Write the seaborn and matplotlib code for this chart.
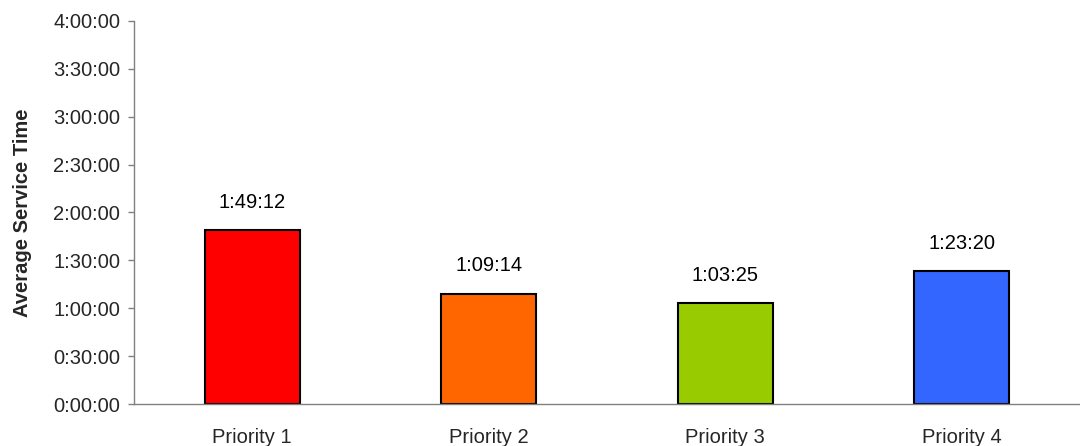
import matplotlib
matplotlib.use("Agg")
import matplotlib.pyplot as plt
import seaborn as sns
import pandas as pd
import numpy as np

categories = ["Priority 1", "Priority 2", "Priority 3", "Priority 4"]
service_times = ["1:49:12", "1:09:14", "1:03:25", "1:23:20"]
bar_colors = ["#FF0000", "#FF6600", "#99CC00", "#3366FF"]
ytick_labels = ["0:00:00", "0:30:00", "1:00:00", "1:30:00", "2:00:00",
                "2:30:00", "3:00:00", "3:30:00", "4:00:00"]


def to_hours(s):
    h, m, sec = (int(p) for p in s.split(":"))
    return h + m / 60 + sec / 3600


df = pd.DataFrame({"cat": categories, "hours": [to_hours(s) for s in service_times]})

sns.set_style("white")
plt.rcParams["font.family"] = ["Liberation Sans", "DejaVu Sans"]

FS = 14.5

fig = plt.figure(figsize=(10.8, 4.46), dpi=100)
ax = fig.add_axes([134 / 1080, 1 - 404 / 446, 1 - 134 / 1080, (404 - 21) / 446])

sns.barplot(data=df, x="cat", y="hours", hue="cat", palette=bar_colors, saturation=1,
            width=0.4, edgecolor="black", linewidth=1.5, legend=False, ax=ax)

for i, (v, s) in enumerate(zip(df["hours"], service_times)):
    ax.annotate(s, (i, v), xytext=(0, 13), textcoords="offset points",
                ha="center", va="bottom", fontsize=FS, color="black")

ax.set_xlim(-0.5, 3.5)
ax.set_ylim(0, 4)
ax.set_yticks(np.arange(0, 4.01, 0.5))
ax.set_yticklabels(ytick_labels, fontsize=FS)
ax.set_xticks(range(len(categories)))
ax.set_xticklabels(categories, fontsize=FS)
ax.set_xticks(np.arange(-0.5, 3.6, 1), minor=True)
ax.tick_params(axis="x", which="major", length=0, pad=17)
ax.tick_params(axis="x", which="minor", length=4, color="#808080", width=1, direction="out")
ax.tick_params(axis="y", which="major", length=4, color="#808080", width=1, direction="out", pad=6, left=True)
ax.set_xlabel("")
ax.set_ylabel("Average Service Time", fontsize=FS, fontweight="bold", labelpad=15)

for side in ["top", "right"]:
    ax.spines[side].set_visible(False)
for side in ["left", "bottom"]:
    ax.spines[side].set_color("#808080")
    ax.spines[side].set_linewidth(1)

fig.savefig("out.png", dpi=100)
